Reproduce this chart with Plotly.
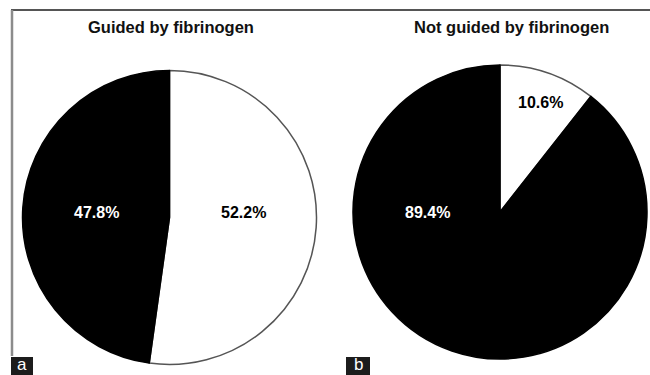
import plotly.graph_objects as go

# Share of patients in each panel (percent)
guided_labels = ["Group 1", "Group 2"]
guided_values = [52.2, 47.8]
not_guided_labels = ["Group 1", "Group 2"]
not_guided_values = [10.6, 89.4]
panel_titles = ["Guided by fibrinogen", "Not guided by fibrinogen"]
panel_tags = ["a", "b"]

W, H = 650, 375
slice_colors = ["#ffffff", "#000000"]
line_colors = ["#555555", "#000000"]
FONT = "Liberation Sans, Arial, sans-serif"


def px_x(x):
    return x / W


def px_y(y):
    return 1 - y / H


def pie_domain(cx, cy, r):
    return dict(x=[px_x(cx - r), px_x(cx + r)], y=[px_y(cy + r), px_y(cy - r)])


fig = go.Figure()
fig.add_trace(go.Pie(
    labels=guided_labels, values=guided_values, sort=False, direction="clockwise",
    rotation=0, textinfo="none", hoverinfo="label+percent",
    marker=dict(colors=slice_colors, line=dict(color=line_colors, width=1.5)),
    domain=pie_domain(169.5, 217.5, 147), showlegend=False,
))
fig.add_trace(go.Pie(
    labels=not_guided_labels, values=not_guided_values, sort=False, direction="clockwise",
    rotation=0, textinfo="none", hoverinfo="label+percent",
    marker=dict(colors=slice_colors, line=dict(color=line_colors, width=1.5)),
    domain=pie_domain(500, 212, 147), showlegend=False,
))

# Percentage labels: white text on black slices, black on white
label_spots = [
    (guided_values[0], 243, 213, "#000000"),
    (guided_values[1], 96, 213, "#ffffff"),
    (not_guided_values[0], 540, 102, "#000000"),
    (not_guided_values[1], 427, 213, "#ffffff"),
]
annotations = []
for val, x, y, col in label_spots:
    annotations.append(dict(
        x=px_x(x), y=px_y(y), xref="paper", yref="paper", showarrow=False,
        text=f"<b>{val:.1f}%</b>", font=dict(family=FONT, size=16, color=col),
        xanchor="center", yanchor="middle",
    ))

for title, x in zip(panel_titles, [171, 511]):
    annotations.append(dict(
        x=px_x(x), y=px_y(27), xref="paper", yref="paper", showarrow=False,
        text=f"<b>{title}</b>", font=dict(family=FONT, size=16.5, color="#111111"),
        xanchor="center", yanchor="middle",
    ))

shapes = [
    dict(type="line", xref="paper", yref="paper", x0=px_x(11), x1=1, y0=px_y(10), y1=px_y(10),
         line=dict(color="#555555", width=2)),
    dict(type="line", xref="paper", yref="paper", x0=px_x(12), x1=px_x(12), y0=px_y(10), y1=px_y(356),
         line=dict(color="#8c8c8c", width=2.5)),
]
for tag, (x0, x1) in zip(panel_tags, [(11, 33), (346, 370)]):
    shapes.append(dict(type="rect", xref="paper", yref="paper", x0=px_x(x0), x1=px_x(x1),
                       y0=0, y1=px_y(357), fillcolor="#1c1c1c", line=dict(width=0)))
    annotations.append(dict(
        x=px_x((x0 + x1) / 2), y=px_y(364.5), xref="paper", yref="paper", showarrow=False,
        text=tag, font=dict(family=FONT, size=17, color="#ffffff"),
        xanchor="center", yanchor="middle",
    ))

fig.update_layout(
    width=W, height=H, margin=dict(l=0, r=0, t=0, b=0),
    paper_bgcolor="#ffffff", plot_bgcolor="#ffffff",
    annotations=annotations, shapes=shapes,
)

fig.write_html("out.html")
